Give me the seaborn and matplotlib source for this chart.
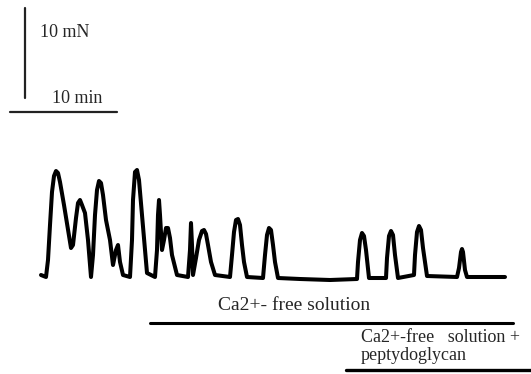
import matplotlib
matplotlib.use("Agg")
import matplotlib.pyplot as plt
import seaborn as sns
import pandas as pd

# Trace samples (x position, vertical position in image units)
time_pts = [41, 46, 48, 50, 52, 54, 56, 58, 60, 64, 71, 73, 76, 78, 80, 82, 85, 88, 91, 93, 95, 97,
            99, 101, 103, 106, 110, 113, 116, 118, 120, 123, 130, 132, 133, 135, 137, 139, 142, 147,
            155, 157, 158, 159, 160, 162, 164, 166, 168, 170, 172, 177, 188, 190, 191, 192, 193, 196,
            199, 202, 204, 206, 208, 211, 215, 230, 232, 234, 236, 238, 240, 242, 244, 247, 263, 265,
            267, 269, 271, 273, 275, 278, 300, 330, 357, 358, 360, 362, 364, 366, 369, 386, 387, 389,
            391, 393, 395, 398, 414, 415, 417, 419, 421, 423, 427, 457, 459, 461, 462, 463, 465, 467,
            480, 505]
trace = [275, 277, 260, 225, 192, 176, 171, 173, 182, 205, 248, 245, 218, 203, 200, 205, 213, 240,
         277, 255, 215, 190, 181, 183, 195, 220, 240, 265, 250, 245, 262, 275, 277, 240, 200, 172, 170,
         180, 215, 273, 277, 250, 215, 200, 215, 250, 240, 228, 228, 238, 255, 275, 277, 250, 223, 245,
         275, 258, 240, 231, 230, 234, 245, 262, 275, 277, 255, 232, 220, 219, 225, 245, 262, 277, 278,
         255, 235, 228, 230, 245, 262, 278, 279, 280, 279, 262, 240, 233, 236, 250, 278, 278, 258, 236,
         231, 235, 255, 278, 275, 255, 232, 226, 230, 248, 276, 277, 268, 252, 249, 252, 270, 277, 277,
         277]

label_ca = "Ca2+- free solution"
label_pg1 = "Ca2+-free   solution +"
label_pg2 = "peptydoglycan"
scale_force = "10 mN"
scale_time = "10 min"

sns.set_style("white")
plt.rcParams['font.family'] = ['Liberation Serif', 'DejaVu Serif']

fig = plt.figure(figsize=(5.31, 3.74), dpi=100)
ax = fig.add_axes([0, 0, 1, 1])
df = pd.DataFrame({"t": time_pts, "f": trace})
sns.lineplot(data=df, x="t", y="f", ax=ax, color="black", linewidth=2.9, sort=False,
             solid_joinstyle="round", solid_capstyle="round")
ax.set_xlim(0, 531)
ax.set_ylim(374, 0)
ax.axis("off")

# scale bars
ax.plot([25, 25], [8, 98], color="#222222", linewidth=1.6)
ax.plot([10, 117], [112, 112], color="#222222", linewidth=1.6)
ax.text(40, 32, scale_force, fontsize=13, va="center", ha="left")
ax.text(52, 98, scale_time, fontsize=13, va="center", ha="left")

# condition bars
ax.text(218, 306, label_ca, fontsize=14, va="center", ha="left")
ax.plot([150, 513], [323, 323], color="black", linewidth=2.2)
ax.text(361, 337, label_pg1, fontsize=13, va="center", ha="left")
ax.text(361, 355, label_pg2, fontsize=13, va="center", ha="left")
ax.plot([346, 531], [370, 370], color="black", linewidth=2.4)

fig.savefig("out.png", dpi=100)
